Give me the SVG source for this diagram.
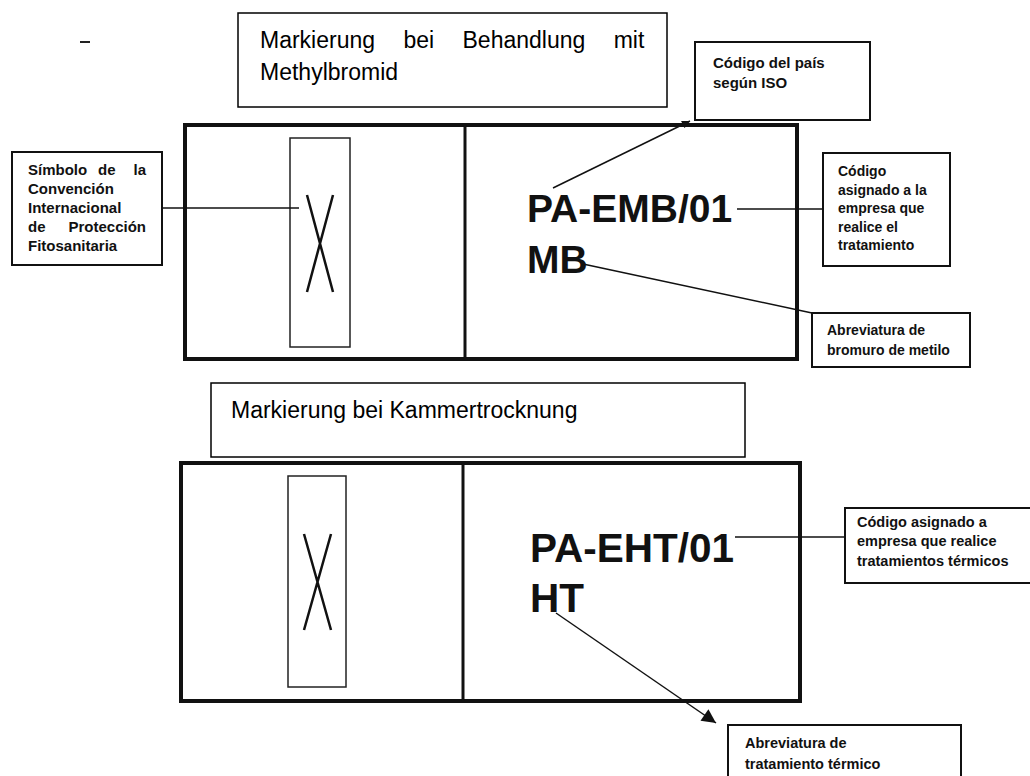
<svg xmlns="http://www.w3.org/2000/svg" width="1030" height="776" viewBox="0 0 1030 776">
<style>
.bg{fill:#fff}
.frame{fill:none;stroke:#111;stroke-width:4}
.div{stroke:#111;stroke-width:3}
.sym{fill:none;stroke:#222;stroke-width:1.5}
.x{stroke:#111;stroke-width:2.5;fill:none}
.title{fill:#fff;stroke:#000;stroke-width:1.5}
.lbl{fill:#fff;stroke:#111;stroke-width:2}
.tt{font-family:"Liberation Sans",Arial,sans-serif;font-size:23px;fill:#000}
.big{font-family:"Liberation Sans",Arial,sans-serif;font-size:39px;font-weight:bold;fill:#111}
.big2{font-family:"Liberation Sans",Arial,sans-serif;font-size:40.5px;font-weight:bold;fill:#111}
.s{font-family:"Liberation Sans",Arial,sans-serif;font-size:14px;font-weight:bold;fill:#111}
.l{font-family:"Liberation Sans",Arial,sans-serif;font-size:15px;font-weight:bold;fill:#111}
.m{font-family:"Liberation Sans",Arial,sans-serif;font-size:14.5px;font-weight:bold;fill:#111}
.c{stroke:#111;stroke-width:1.5;fill:none}
</style>
<defs>
<marker id="ah" viewBox="0 0 10 10" refX="10" refY="5" markerWidth="10" markerHeight="8" markerUnits="userSpaceOnUse" orient="auto">
<path d="M0,0 L10,5 L0,10 z" fill="#111"/>
</marker>
<marker id="ah2" viewBox="0 0 10 10" refX="10" refY="5" markerWidth="16" markerHeight="14" markerUnits="userSpaceOnUse" orient="auto">
<path d="M0,0 L10,5 L0,10 z" fill="#111"/>
</marker>
</defs>
<rect class="bg" x="0" y="0" width="1030" height="776"/>
<line x1="80" y1="42" x2="90" y2="42" stroke="#222" stroke-width="2"/>

<g id="title1">
<rect class="title" x="238" y="13" width="429" height="94"/>
<text class="tt" x="260" y="48" word-spacing="22">Markierung bei Behandlung mit</text>
<text class="tt" x="260" y="80">Methylbromid</text>
</g>

<g id="mark1">
<rect class="frame" x="185" y="125" width="612" height="234"/>
<line class="div" x1="465" y1="125" x2="465" y2="359"/>
<rect class="sym" x="290" y="138" width="60" height="209"/>
<path class="x" d="M307,195 L333,292 M333,195 L307,292"/>
<text class="big" x="527" y="222">PA-EMB/01</text>
<text class="big" x="527" y="273">MB</text>
</g>

<g id="lbl-ippc">
<rect class="lbl" x="12" y="152" width="150" height="113"/>
<text class="l" x="28" y="175">Símbolo</text>
<text class="l" x="98" y="175">de</text>
<text class="l" x="146" y="175" text-anchor="end">la</text>
<text class="l" x="28" y="194">Convención</text>
<text class="l" x="28" y="213">Internacional</text>
<text class="l" x="28" y="232">de</text>
<text class="l" x="146" y="232" text-anchor="end">Protección</text>
<text class="l" x="28" y="251">Fitosanitaria</text>
</g>

<g id="lbl-iso">
<rect class="lbl" x="695" y="42" width="175" height="78"/>
<text class="l" x="713" y="68">Código del país</text>
<text class="l" x="713" y="88">según ISO</text>
</g>

<g id="lbl-empresa1">
<rect class="lbl" x="823" y="153" width="127" height="113"/>
<text class="s" x="838" y="176">Código</text>
<text class="s" x="838" y="194.5">asignado a la</text>
<text class="s" x="838" y="213">empresa que</text>
<text class="s" x="838" y="231.5">realice el</text>
<text class="s" x="838" y="250">tratamiento</text>
</g>

<g id="lbl-mb">
<rect class="lbl" x="812" y="313" width="158" height="54"/>
<text class="s" x="827" y="335">Abreviatura de</text>
<text class="s" x="827" y="355">bromuro de metilo</text>
</g>

<g id="title2">
<rect class="title" x="211" y="383" width="534" height="74"/>
<text class="tt" x="231" y="418">Markierung bei Kammertrocknung</text>
</g>

<g id="mark2">
<rect class="frame" x="181" y="463" width="619" height="238"/>
<line class="div" x1="463" y1="463" x2="463" y2="701"/>
<rect class="sym" x="288" y="476" width="58" height="211"/>
<path class="x" d="M304,534 L331,630 M331,534 L304,630"/>
<text class="big2" x="530" y="562">PA-EHT/01</text>
<text class="big2" x="530" y="612">HT</text>
</g>

<g id="lbl-empresa2">
<rect class="lbl" x="845" y="508" width="190" height="75"/>
<text class="m" x="857" y="527">Código asignado a</text>
<text class="m" x="857" y="546">empresa que realice</text>
<text class="m" x="857" y="566">tratamientos térmicos</text>
</g>

<g id="lbl-ht">
<rect class="lbl" x="728" y="725" width="233" height="60"/>
<text class="m" x="745" y="748">Abreviatura de</text>
<text class="m" x="745" y="769">tratamiento térmico</text>
</g>

<g id="connectors">
<line class="c" x1="162" y1="208" x2="299" y2="208"/>
<line class="c" x1="553" y1="188" x2="690" y2="121" marker-end="url(#ah)"/>
<line class="c" x1="737" y1="209" x2="823" y2="209"/>
<line class="c" x1="583" y1="264" x2="812" y2="313"/>
<line class="c" x1="735" y1="537" x2="845" y2="537"/>
<line class="c" x1="556" y1="613" x2="716" y2="723" marker-end="url(#ah2)"/>
</g>
</svg>
